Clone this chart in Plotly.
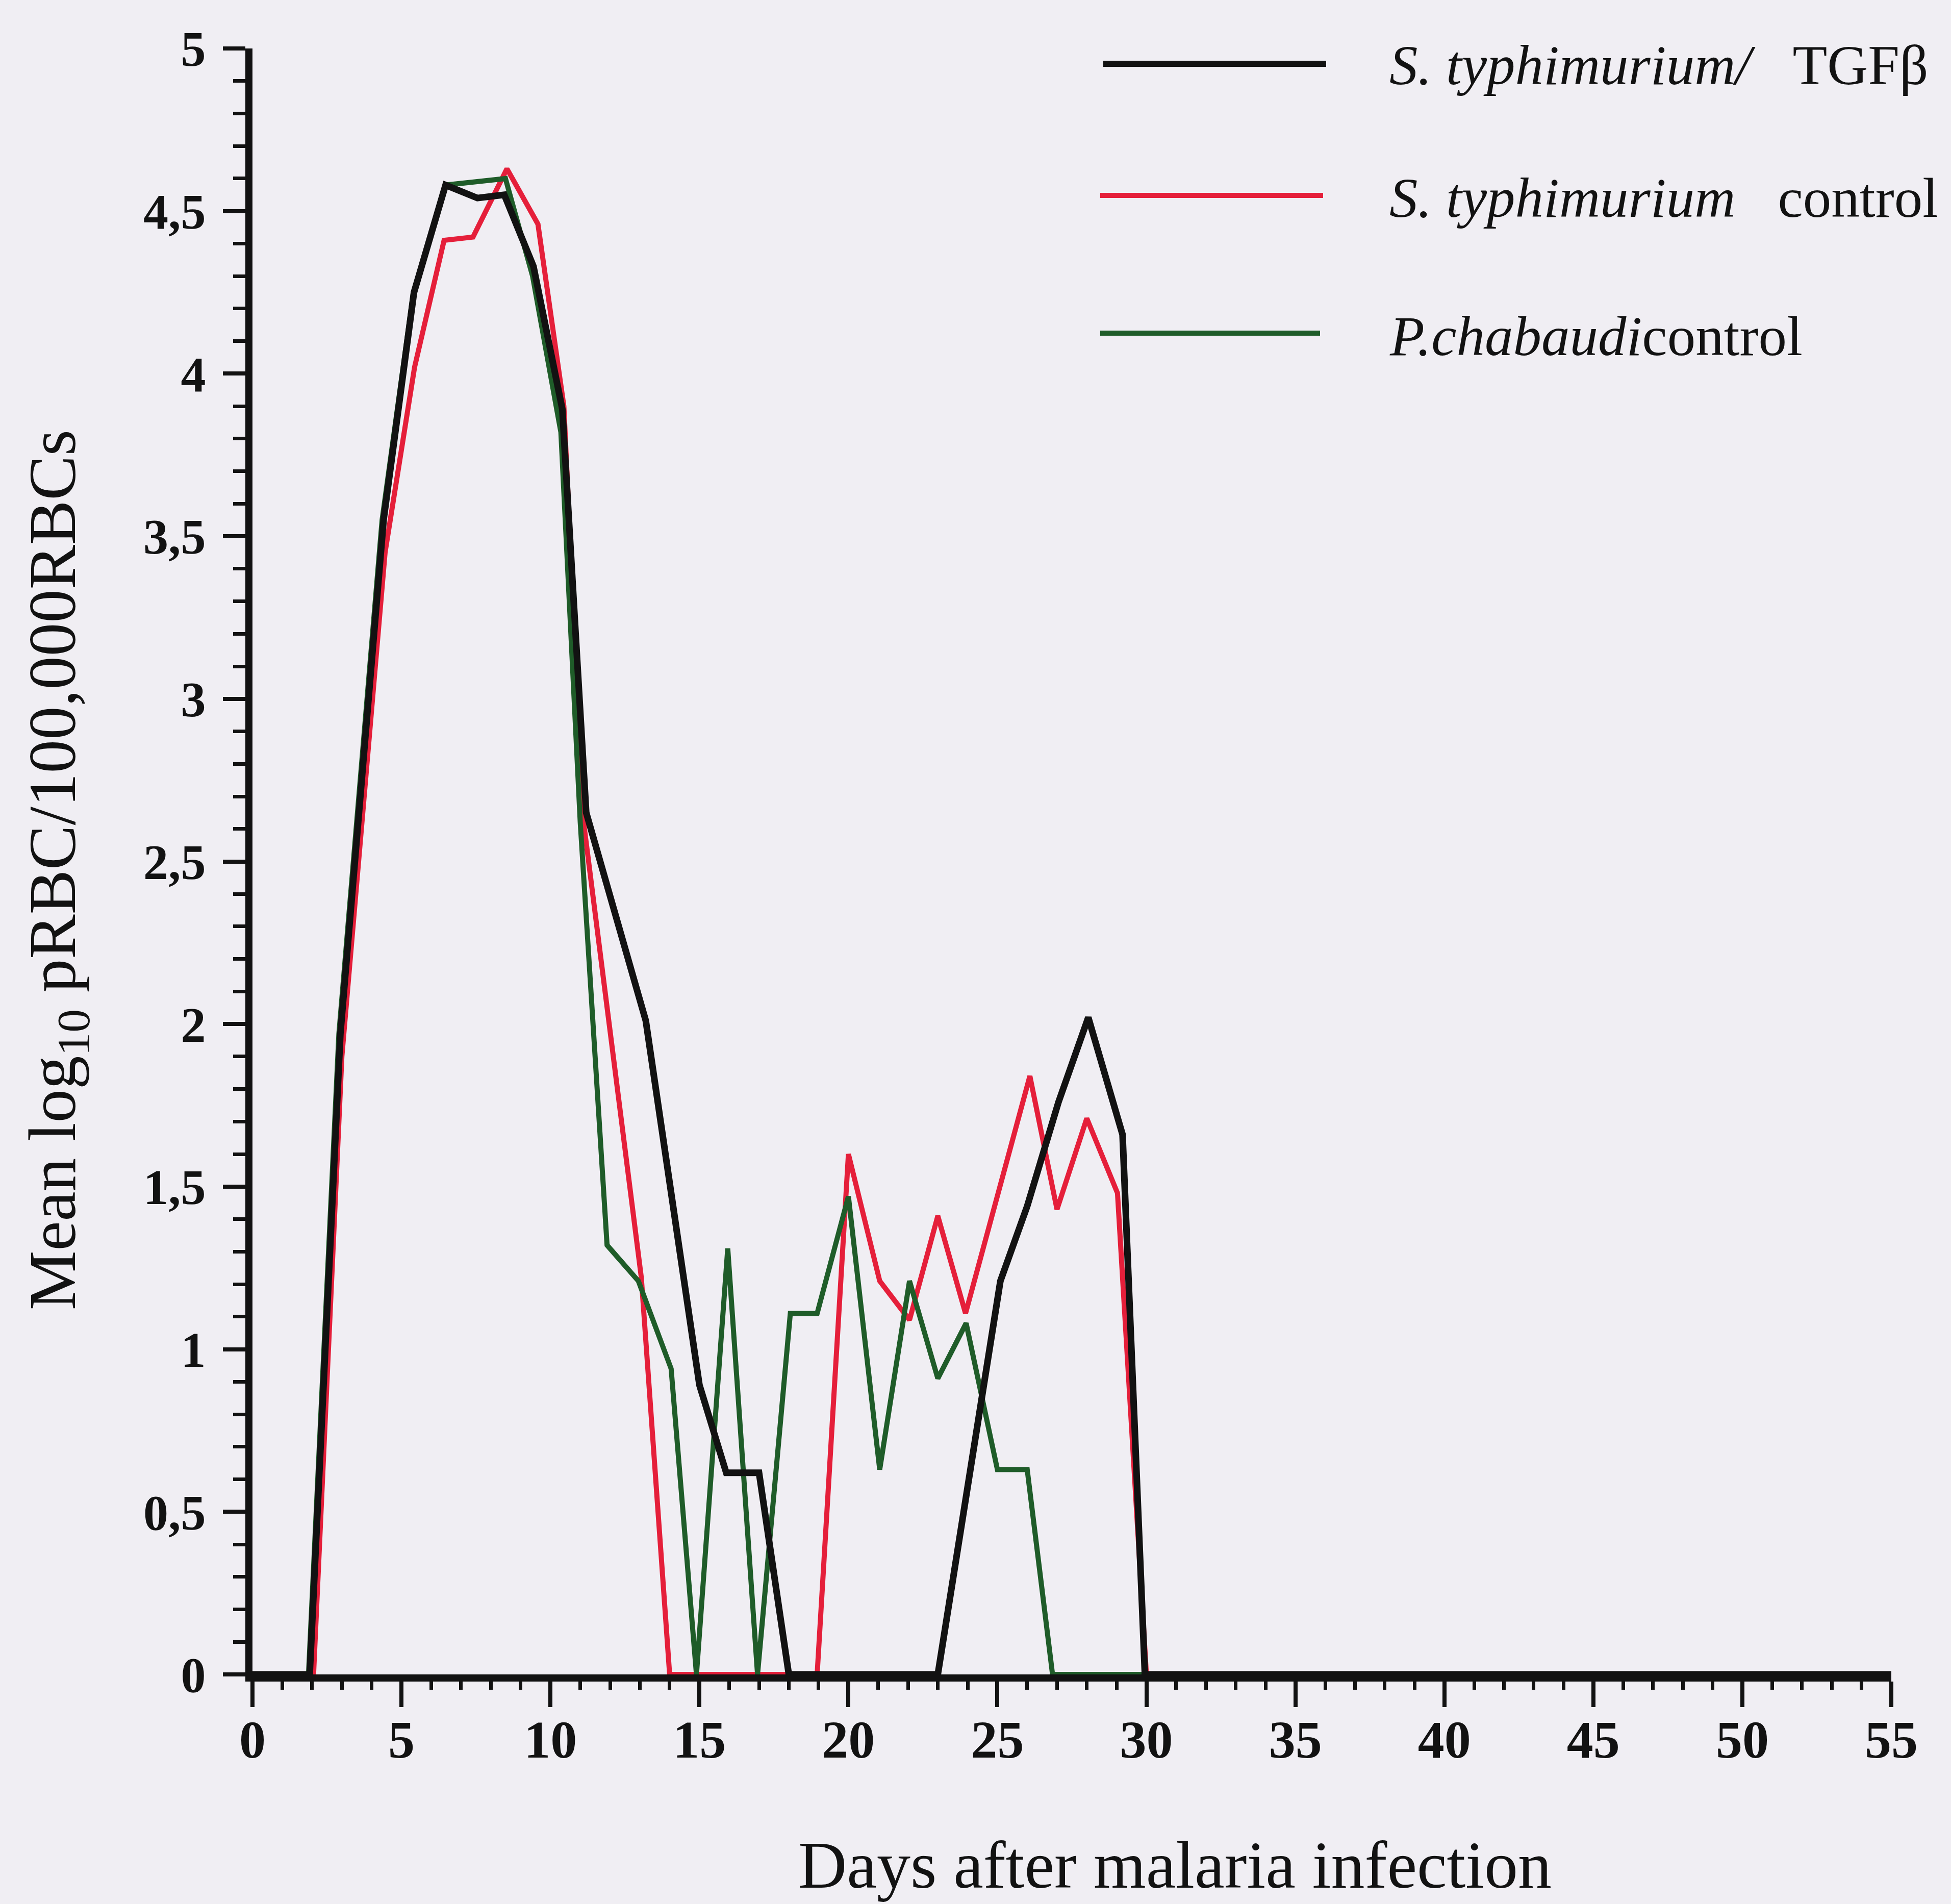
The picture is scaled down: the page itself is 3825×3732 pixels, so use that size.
import plotly.graph_objects as go

# ---------------- data ----------------
tgf_days = [0, 1.92, 2.95, 4.4, 5.42, 6.48, 7.55, 8.45, 9.43, 10.4, 11.2, 13.2, 15.0, 15.9, 17.0, 18.0,
            23.0, 25.1, 26.0, 27.05, 28.05, 29.2, 29.95, 55]
tgf_vals = [0, 0, 1.97, 3.55, 4.25, 4.58, 4.54, 4.55, 4.33, 3.89, 2.65, 2.01, 0.89, 0.62, 0.62, 0,
            0, 1.21, 1.44, 1.76, 2.02, 1.66, 0, 0]

ctrl_days = [0, 2.05, 3.0, 4.45, 5.44, 6.43, 7.4, 8.54, 9.58, 10.45, 11.1, 13.05, 14.0, 18.95,
             20.0, 21.05, 22.05, 23.0, 23.93, 26.09, 27.0, 28.0, 29.03, 30.0, 55]
ctrl_vals = [0, 0, 1.9, 3.45, 4.02, 4.41, 4.42, 4.63, 4.46, 3.9, 2.63, 1.22, 0, 0,
             1.6, 1.21, 1.09, 1.41, 1.11, 1.84, 1.43, 1.71, 1.48, 0, 0]

chab_days = [0, 1.88, 2.9, 4.35, 5.4, 6.48, 7.5, 8.49, 9.4, 10.35, 11.0, 11.9, 12.95, 14.05, 14.9,
             15.95, 16.95, 18.05, 18.95, 20.0, 21.05, 22.05, 23.0, 23.95, 25.0, 26.0, 26.85, 55]
chab_vals = [0, 0, 1.97, 3.55, 4.25, 4.58, 4.59, 4.6, 4.3, 3.82, 2.62, 1.32, 1.21, 0.94, 0,
             1.31, 0, 1.11, 1.11, 1.47, 0.63, 1.21, 0.91, 1.08, 0.63, 0.63, 0, 0]

series_names = ["S. typhimurium/  TGFβ", "S. typhimurium  control", "P.chabaudicontrol"]
legend_labels = ["<i>S. typhimurium/</i>\u00a0\u00a0 TGFβ",
                 "<i>S. typhimurium</i>\u00a0\u00a0 control",
                 "<i>P.chabaudi</i>control"]

x_tick_vals = [0, 5, 10, 15, 20, 25, 30, 35, 40, 45, 50, 55]
x_tick_text = ["0", "5", "10", "15", "20", "25", "30", "35", "40", "45", "50", "55"]
y_tick_vals = [0, 0.5, 1, 1.5, 2, 2.5, 3, 3.5, 4, 4.5, 5]
y_tick_text = ["0", "0,5", "1", "1,5", "2", "2,5", "3", "3,5", "4", "4,5", "5"]

x_title = "Days after malaria infection"
y_title = "Mean log<sub>10</sub> pRBC/100,000RBCs"

# ---------------- styling ----------------
W, H = 3825, 3732
L, R, T, B = 495, 117, 95, 450
PW, PH = W - L - R, H - T - B

BLACK = "#121212"
RED = "#e51f3a"
GREEN = "#1f5c29"
BG = "#f0eef3"
FONT = "Liberation Serif"


def px_x(px):
    return (px - L) / PW


def px_y(py):
    return (H - B - py) / PH


fig = go.Figure()
fig.add_trace(go.Scatter(x=ctrl_days, y=ctrl_vals, mode="lines", name=series_names[1],
                         line=dict(color=RED, width=10), showlegend=False))
fig.add_trace(go.Scatter(x=chab_days, y=chab_vals, mode="lines", name=series_names[2],
                         line=dict(color=GREEN, width=10), showlegend=False))
fig.add_trace(go.Scatter(x=tgf_days, y=tgf_vals, mode="lines", name=series_names[0],
                         line=dict(color=BLACK, width=13), showlegend=False))

# manual legend (line samples + labels)
legend_rows = [(2163, 2600, 125, BLACK, 12), (2157, 2594, 383, RED, 10), (2157, 2588, 653, GREEN, 10)]
text_rows = [128, 388, 658]
for (x0, x1, yy, col, w), ty, lab in zip(legend_rows, text_rows, legend_labels):
    fig.add_shape(type="line", xref="paper", yref="paper",
                  x0=px_x(x0), x1=px_x(x1), y0=px_y(yy), y1=px_y(yy),
                  line=dict(color=col, width=w))
    fig.add_annotation(xref="paper", yref="paper", x=px_x(2722), y=px_y(ty),
                       xanchor="left", yanchor="middle", showarrow=False, text=lab,
                       font=dict(family=FONT, size=111, color=BLACK))

# axis titles
fig.add_annotation(xref="paper", yref="paper", x=px_x(2303), y=px_y(3655),
                   xanchor="center", yanchor="middle", showarrow=False, text=x_title,
                   font=dict(family=FONT, size=132, color=BLACK))
fig.add_annotation(xref="paper", yref="paper", x=px_x(112), y=px_y(1705),
                   xanchor="center", yanchor="middle", showarrow=False, text=y_title,
                   textangle=-90, font=dict(family=FONT, size=131, color=BLACK))

fig.update_layout(
    width=W, height=H,
    margin=dict(l=L, r=R, t=T, b=B, autoexpand=False),
    paper_bgcolor=BG, plot_bgcolor=BG,
    showlegend=False,
    xaxis=dict(range=[0, 55], showgrid=False, zeroline=False,
               showline=True, linecolor=BLACK, linewidth=14,
               tickmode="array", tickvals=x_tick_vals, ticktext=x_tick_text,
               ticks="outside", ticklen=50, tickwidth=8, tickcolor=BLACK,
               ticklabelstandoff=-26,
               tickfont=dict(family=FONT, size=104, color=BLACK, weight="bold"),
               minor=dict(dtick=1, ticks="outside", ticklen=16, tickwidth=7, tickcolor=BLACK)),
    yaxis=dict(range=[0, 5], showgrid=False, zeroline=False,
               showline=True, linecolor=BLACK, linewidth=14,
               tickmode="array", tickvals=y_tick_vals, ticktext=y_tick_text,
               ticks="outside", ticklen=44, tickwidth=8, tickcolor=BLACK,
               ticklabelstandoff=14,
               tickfont=dict(family=FONT, size=98, color=BLACK, weight="bold"),
               minor=dict(dtick=0.1, ticks="outside", ticklen=24, tickwidth=7, tickcolor=BLACK)),
)

fig.write_html("out.html")
